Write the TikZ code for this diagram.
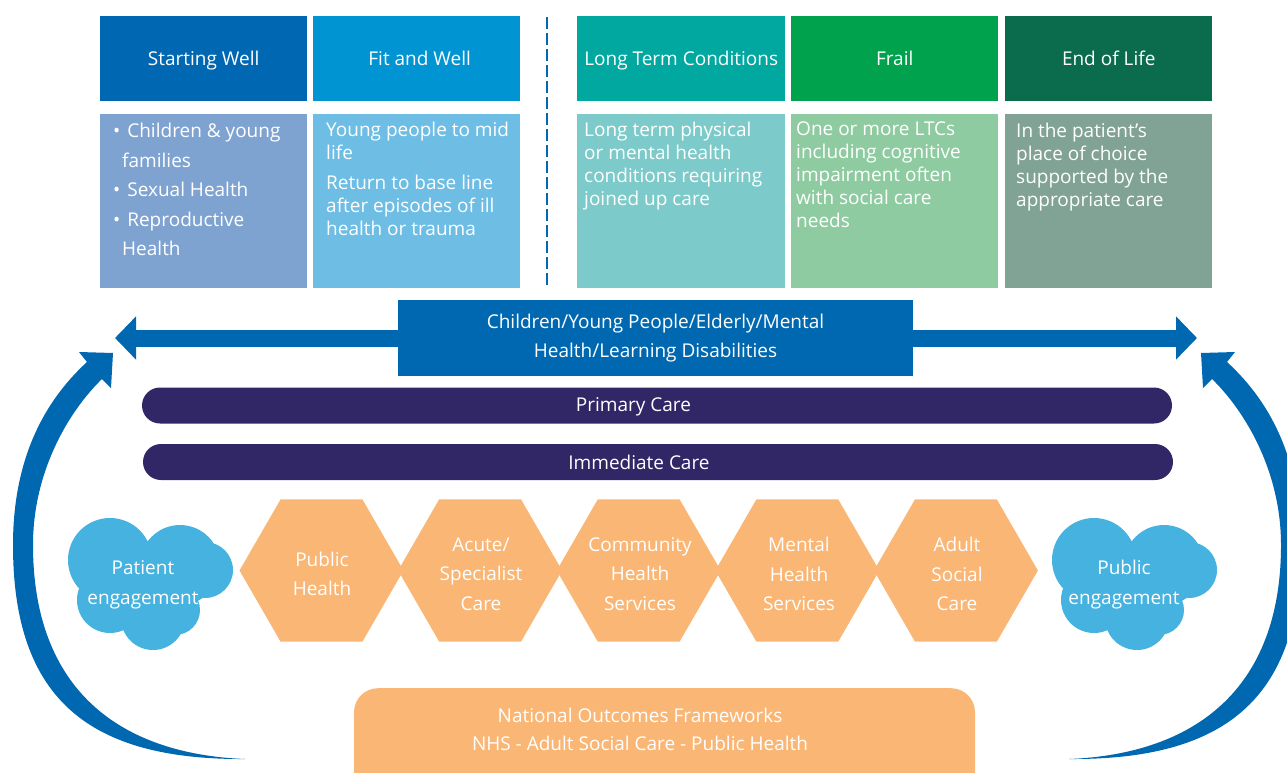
\documentclass[tikz,border=0pt]{standalone}
\usepackage{fontspec}
\setmainfont{Open Sans}
\usetikzlibrary{arrows.meta,shapes.geometric}
\definecolor{cSWh}{HTML}{0068B3}
\definecolor{cFWh}{HTML}{0094D2}
\definecolor{cLTh}{HTML}{00A8A0}
\definecolor{cFRh}{HTML}{00A24D}
\definecolor{cELh}{HTML}{0A6B4D}
\definecolor{cSWb}{HTML}{7FA3D1}
\definecolor{cFWb}{HTML}{6DBDE5}
\definecolor{cLTb}{HTML}{7CCBCA}
\definecolor{cFRb}{HTML}{8FCBA0}
\definecolor{cELb}{HTML}{81A395}
\definecolor{cBand}{HTML}{0068B0}
\definecolor{cPurple}{HTML}{312767}
\definecolor{cCloud}{HTML}{46B2DF}
\definecolor{cOrange}{HTML}{FAB674}
\newcommand\myfs[2]{\fontsize{#1}{#2}\selectfont}
\tikzset{
 hdr/.style={anchor=north west, minimum width=207pt, minimum height=85pt, inner sep=0pt, text=white, font=\myfs{19}{23}, text height=13.5pt, text depth=0pt},
 bodybox/.style={anchor=north west, minimum width=207pt, minimum height=174pt, inner sep=0pt},
 bodytext/.style={anchor=north west, inner sep=0pt, align=left, text=white, font=\myfs{19}{23}},
 bar/.style={fill=cPurple, rounded corners=18pt, minimum width=1030pt, minimum height=36pt, inner sep=0pt},
 whitetext/.style={text=white, inner sep=0pt, align=center},
 hexn/.style={regular polygon, regular polygon sides=6, minimum size=164pt, inner sep=0pt, fill=cOrange},
 hexlabel/.style={text=white, inner sep=0pt, align=center, font=\myfs{19}{29.5}},
 bandarrow/.style={draw=cBand, line width=17pt, -{Triangle[length=21pt,width=42pt]}},
 bigarc/.style={fill=cBand},
 cloudshape/.pic={\fill[cCloud] (-40,-25) circle (42pt) (30,-20) circle (40pt) (55,-15) circle (28pt) (25,25) circle (25pt) (3,33) circle (32pt) (-40,15) circle (33pt) (0,0) circle (42pt);}
}
\begin{document}
\begin{tikzpicture}[x=1pt,y=-1pt]
\useasboundingbox (0,0) rectangle (1287,773);
\clip (0,0) rectangle (1287,773);

% big curved arrows
\fill[bigarc] (245,759) .. controls (90,760) and (13,700) .. (13,545)
  .. controls (13,465) and (40,405) .. (87,362) -- (79,352) -- (113,353) -- (111,388) -- (102,379)
  .. controls (70,410) and (33,470) .. (33,545)
  .. controls (33,690) and (120,754) .. (245,759) -- cycle;
\fill[bigarc] (1069,759) .. controls (1224,760) and (1301,700) .. (1301,545)
  .. controls (1301,465) and (1274,405) .. (1227,362) -- (1235,352) -- (1201,353) -- (1203,388) -- (1212,379)
  .. controls (1244,410) and (1281,470) .. (1281,545)
  .. controls (1281,690) and (1194,754) .. (1069,759) -- cycle;

% header boxes
\node[hdr, fill=cSWh] (swh) at (100,16) {Starting Well};
\node[hdr, fill=cFWh] (fwh) at (313,16) {\hspace*{6pt}Fit and Well};
\node[hdr, fill=cLTh, minimum width=208pt] (lth) at (577,16) {Long Term Conditions};
\node[hdr, fill=cFRh] (frh) at (791,16) {Frail};
\node[hdr, fill=cELh] (elh) at (1005,16) {End of Life};

% body boxes
\node[bodybox, fill=cSWb] (swb) at (100,114) {};
\node[bodybox, fill=cFWb] (fwb) at (313,114) {};
\node[bodybox, fill=cLTb, minimum width=208pt] (ltb) at (577,114) {};
\node[bodybox, fill=cFRb] (frb) at (791,114) {};
\node[bodybox, fill=cELb] (elb) at (1005,114) {};

\node[bodytext, font=\myfs{19}{29.5}] (swt) at (113,123) {•\hspace{7pt}Children \& young\\\hspace*{9pt}families\\•\hspace{7pt}Sexual Health\\•\hspace{7pt}Reproductive\\\hspace*{9pt}Health};
\node[bodytext] (fwt) at (326,122) {Young people to mid\\life\\[7pt]Return to base line\\after episodes of ill\\health or trauma};
\node[bodytext] (ltt) at (584,122) {Long term physical\\or mental health\\conditions requiring\\joined up care};
\node[bodytext] (frt) at (796,122) {One or more LTCs\\including cognitive\\impairment often\\with social care\\needs};
\node[bodytext] (elt) at (1016,123) {In the patient’s\\place of choice\\supported by the\\appropriate care};

% dashed divider
\coordinate (dtop) at (547,17);
\coordinate (dbot) at (547,286);
\draw[cBand, line width=2.5pt, dash pattern=on 12pt off 4pt] (dtop) -- (dbot);

% band with arrows
\node[fill=cBand, minimum width=515pt, minimum height=76pt, inner sep=0pt, text=white, align=center, font=\myfs{19}{29}] (band) at (655.5,338) {Children/Young People/Elderly/Mental\\Health/Learning Disabilities\hspace*{0pt}};
\coordinate (ltip) at (115,338);
\coordinate (rtip) at (1197,338);
\draw[bandarrow] (band.west) -- (ltip);
\draw[bandarrow] (band.east) -- (rtip);

% bars
\node[bar] (pc) at (657,405.5) {};
\node[whitetext, font=\myfs{19}{23}] (pct) at (633.5,406.5) {Primary Care};
\node[bar] (ic) at (658,462) {};
\node[whitetext, font=\myfs{19}{23}] (ict) at (639,462) {Immediate Care};

% clouds
\pic at (150,585) {cloudshape};
\pic at (1134,585) {cloudshape};
\node[whitetext, font=\myfs{19}{30}] (pe) at (143,585) {Patient\\engagement};
\node[whitetext, font=\myfs{19}{30}] (pue) at (1124,585) {Public\\engagement};

% hexagons
\node[hexn] (h1) at (321.5,570.5) {};
\node[hexn] (h2) at (480.1,570.5) {};
\node[hexn] (h3) at (638.7,570.5) {};
\node[hexn] (h4) at (797.3,570.5) {};
\node[hexn] (h5) at (955.9,570.5) {};
\node[hexlabel] (h1t) at (322,574) {Public\\Health};
\node[hexlabel] (h2t) at (481,574) {Acute/\\Specialist\\Care};
\node[hexlabel] (h3t) at (640,574) {Community\\Health\\Services};
\node[hexlabel] (h4t) at (799,574) {Mental\\Health\\Services};
\node[hexlabel] (h5t) at (957,574) {Adult\\Social\\Care};

% bottom box
\node[fill=cOrange, rounded corners=24pt, minimum width=621pt, minimum height=120pt, inner sep=0pt, anchor=north] (nof) at (664.5,688) {};
\node[whitetext, font=\myfs{19}{28}] (noft) at (640,729) {National Outcomes Frameworks\\NHS - Adult Social Care - Public Health};
\end{tikzpicture}
\end{document}
